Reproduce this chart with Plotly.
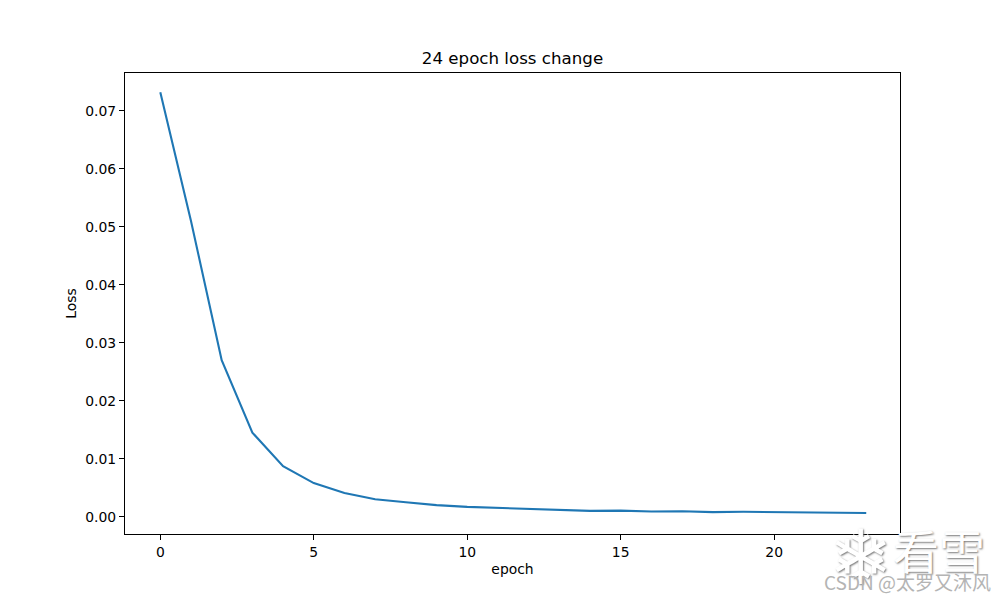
import plotly.graph_objects as go

epochs = list(range(24))
loss = [0.0732, 0.0510, 0.0270, 0.0145, 0.0087, 0.0058, 0.0041, 0.0030, 0.0025, 0.0020,
        0.0017, 0.0015, 0.0013, 0.0012, 0.0010, 0.00105, 0.0009, 0.00095, 0.0008, 0.00085,
        0.0008, 0.0008, 0.0007, 0.00065]
x_ticks = [0, 5, 10, 15, 20]
y_ticks = [0.0, 0.01, 0.02, 0.03, 0.04, 0.05, 0.06, 0.07]
y_labels = ["0.00", "0.01", "0.02", "0.03", "0.04", "0.05", "0.06", "0.07"]
title_text = "24 epoch loss change"
x_title = "epoch"
y_title = "Loss"
flake_text = "❄"
mark_text = "看雪"
credit_text = "CSDN @太罗又沐风"

font = "DejaVu Sans"
cjk = "Noto Sans CJK SC"
halo = "1px 1px 2px #777777"
fig = go.Figure(go.Scatter(x=epochs, y=loss, mode="lines", line=dict(color="#1f77b4", width=2.1)))
axis = dict(showgrid=False, zeroline=False, showline=True, mirror=True, linecolor="black", linewidth=1,
            ticks="outside", ticklen=5, tickwidth=1, tickcolor="black",
            tickfont=dict(family=font, size=13.9, color="black"))
fig.update_layout(
    width=1000, height=600, margin=dict(l=117, r=108, t=65, b=74),
    paper_bgcolor="white", plot_bgcolor="white",
    title=dict(text=title_text, x=0.5045, xanchor="center", y=0.9167, yanchor="middle",
               font=dict(family=font, size=16.67, color="black")),
    showlegend=False,
    xaxis=dict(axis, range=[-1.15, 24.1], tickvals=x_ticks,
               title=dict(text=x_title, standoff=5, font=dict(family=font, size=13.9, color="black"))),
    yaxis=dict(axis, range=[-0.00298, 0.07652], tickvals=y_ticks, ticktext=y_labels,
               title=dict(text=y_title, standoff=5, font=dict(family=font, size=13.9, color="black"))),
    annotations=[
        dict(text=flake_text, xref="paper", yref="paper", x=0.95, y=-0.05, xanchor="center", yanchor="middle",
             showarrow=False, font=dict(family=font, size=76, color="white", shadow=halo)),
        dict(text=mark_text, xref="paper", yref="paper", x=1.05, y=-0.032, xanchor="center", yanchor="middle",
             showarrow=False, font=dict(family=cjk, size=46, color="white", shadow=halo)),
        dict(text=credit_text, xref="paper", yref="paper", x=1.0103, y=-0.104, xanchor="center", yanchor="middle",
             showarrow=False, font=dict(family=cjk, size=19, color="#b4b4b4")),
    ],
)
fig.write_html("out.html")
